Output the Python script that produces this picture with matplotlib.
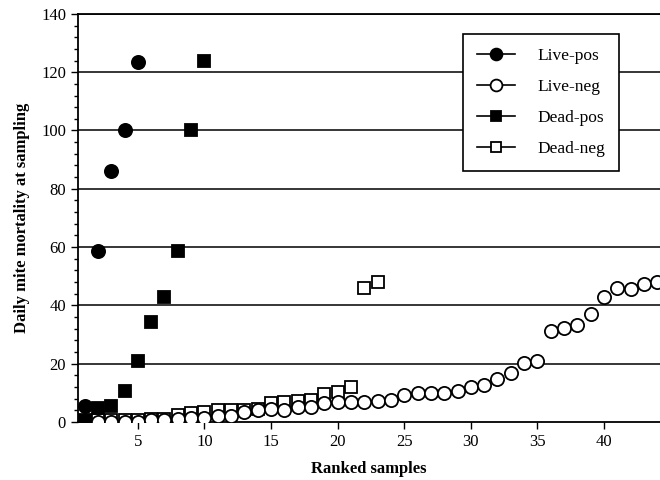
import matplotlib
matplotlib.use("Agg")
import matplotlib.pyplot as plt
from matplotlib.ticker import MultipleLocator
from matplotlib.lines import Line2D

plt.rcParams['font.family'] = ['Liberation Serif', 'DejaVu Serif']

# ranked values for each group
live_pos = [5.5, 58.5, 86, 100, 123.5]
live_neg = [0, 0, 0, 0, 0, 0.5, 0.5, 1, 1.5, 1.5, 2, 2, 3.5, 4, 4.5, 4, 5, 5,
            6.5, 7, 7, 7, 7.3, 7.5, 9.3, 9.8, 9.8, 10, 10.5, 11.9, 12.7, 14.6,
            16.9, 20.1, 20.9, 31.3, 32.2, 33.2, 37.1, 43, 45.9, 45.6, 47.2, 47.9]
dead_pos = [0.7, 4.7, 5.3, 10.6, 21, 34.4, 43, 58.5, 100, 124]
dead_neg = [0, 0.5, 0.5, 0.5, 0.5, 1, 1, 2.5, 3, 3.5, 4, 4, 4, 4.5, 6.4, 7,
            7.3, 7.5, 9.6, 10.4, 12.1, 46, 48]

series = [
    ('Live-pos', live_pos, 'o', 'black'),
    ('Live-neg', live_neg, 'o', 'white'),
    ('Dead-pos', dead_pos, 's', 'black'),
    ('Dead-neg', dead_neg, 's', 'white'),
]

fig = plt.figure(figsize=(6.6, 4.8), dpi=100)
ax = fig.add_axes([0.118, 0.121, 0.882, 0.850])

for y in range(20, 141, 20):
    ax.axhline(y, color='black', lw=1.1, zorder=1)

zorders = {'Dead-neg': 3, 'Live-neg': 4, 'Dead-pos': 5, 'Live-pos': 6}
handles = []
for name, vals, mk, fc in series:
    ms = 9.5 if mk == 'o' else 8
    x = list(range(1, len(vals) + 1))
    ax.plot(x, vals, ls='none', marker=mk, ms=ms, markerfacecolor=fc,
            markeredgecolor='black', markeredgewidth=1.3, zorder=zorders[name])
    # legend entry shows marker on a line
    handles.append(Line2D([], [], color='black', lw=1.2, marker=mk, ms=ms - 1,
                          markerfacecolor=fc, markeredgecolor='black',
                          markeredgewidth=1.3))

ax.set_xlim(0.5, 44.2)
ax.set_ylim(0, 140)
ax.set_xticks(range(5, 45, 5))
ax.yaxis.set_major_locator(MultipleLocator(20))
ax.yaxis.set_minor_locator(MultipleLocator(4))

ax.spines['right'].set_visible(False)
for s in ['left', 'bottom', 'top']:
    ax.spines[s].set_linewidth(1.3)
ax.tick_params(axis='both', direction='out', labelsize=12, width=1, length=5)
ax.tick_params(axis='y', which='minor', direction='out', length=3, width=1)

ax.set_xlabel('Ranked samples', fontsize=12, fontweight='bold', labelpad=8)
ax.set_ylabel('Daily mite mortality at sampling', fontsize=12, fontweight='bold', labelpad=8)

leg = ax.legend(handles, [s[0] for s in series], loc='upper right',
                bbox_to_anchor=(0.945, 0.972), fontsize=12.5, frameon=True,
                fancybox=False, edgecolor='black', framealpha=1,
                handlelength=2.2, labelspacing=0.85, borderpad=0.8, handletextpad=1.3)
leg.get_frame().set_linewidth(1.2)

fig.savefig('out.png', dpi=100)
